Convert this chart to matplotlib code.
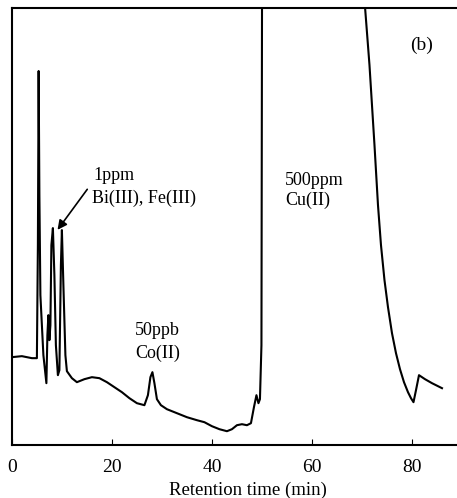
import numpy as np
import matplotlib
matplotlib.use("Agg")
import matplotlib.pyplot as plt

plt.rcParams["font.family"] = ["Liberation Serif", "DejaVu Serif"]

# Chromatogram trace (retention time in min, detector signal in arbitrary units)
time_min = [0, 2, 4, 5.0, 5.2, 5.35, 5.5, 5.7, 6.3, 6.9, 7.1, 7.3, 7.5, 7.7,
            7.9, 8.2, 8.5, 8.8, 9.2, 9.5, 9.8, 10.0, 10.3, 10.7, 11.0, 12, 13,
            14.5, 16, 17.5, 19, 20.5, 22, 23.5, 25, 26.5, 27.2, 27.7, 28.1,
            28.5, 29, 29.8, 31, 33, 35, 37, 38.5, 40, 41.5, 43, 44, 45, 46, 47,
            47.8, 48.4, 48.9, 49.3, 49.6, 49.9, 50.1, 60, 70.5, 71.5, 72.5,
            73.2, 73.8, 74.5, 75.2, 76.0, 76.8, 77.6, 78.4, 79.2, 79.8, 80.3,
            80.8, 81.4, 82.6, 84, 86]
signal = [88, 89, 87, 87, 200, 374, 250, 150, 90, 62, 110, 130, 105, 120,
          200, 217, 170, 100, 70, 75, 180, 215, 160, 90, 74, 67, 63,
          66, 68, 67, 63, 58, 53, 47, 42, 40, 50, 68, 73,
          62, 46, 40, 36, 32, 28, 25, 23, 19, 16, 14, 16, 20, 21, 20,
          22, 38, 50, 42, 46, 100, 700, 700, 445, 380, 300,
          240, 200, 165, 138, 112, 92, 76, 63, 53, 47, 43,
          55, 70, 66, 62, 57]

fig = plt.figure(figsize=(4.57, 4.98), dpi=100)
ax = fig.add_axes([0.026, 0.106, 0.974, 0.878])

ax.plot(time_min, signal, color="black", linewidth=1.5)

ax.set_xlim(0, 89)
ax.set_ylim(0, 437)
ax.set_xticks([0, 20, 40, 60, 80])
ax.set_yticks([])
ax.tick_params(axis="x", direction="in", length=4, pad=10, labelsize=14)
ax.spines["right"].set_visible(False)
for side in ["left", "bottom", "top"]:
    ax.spines[side].set_linewidth(1.5)

ax.set_xlabel("Retention time (min)", fontsize=13.5)
ax.xaxis.set_label_coords(0.53, -0.083)

# Annotations
ax.text(16.4, 270, "1ppm", fontsize=13, va="center")
ax.text(16.0, 247, "Bi(III), Fe(III)", fontsize=13, va="center")
ax.annotate("", xy=(8.8, 213), xytext=(15.4, 258),
            arrowprops=dict(arrowstyle="-|>", color="black", lw=1.2,
                            mutation_scale=14))
ax.text(24.6, 115, "50ppb", fontsize=13, va="center")
ax.text(24.6, 92, "Co(II)", fontsize=13, va="center")
ax.text(54.6, 265, "500ppm", fontsize=13, va="center")
ax.text(54.6, 245, "Cu(II)", fontsize=13, va="center")
ax.text(79.6, 400, "(b)", fontsize=14, va="center")

fig.savefig("out.png", dpi=100)
